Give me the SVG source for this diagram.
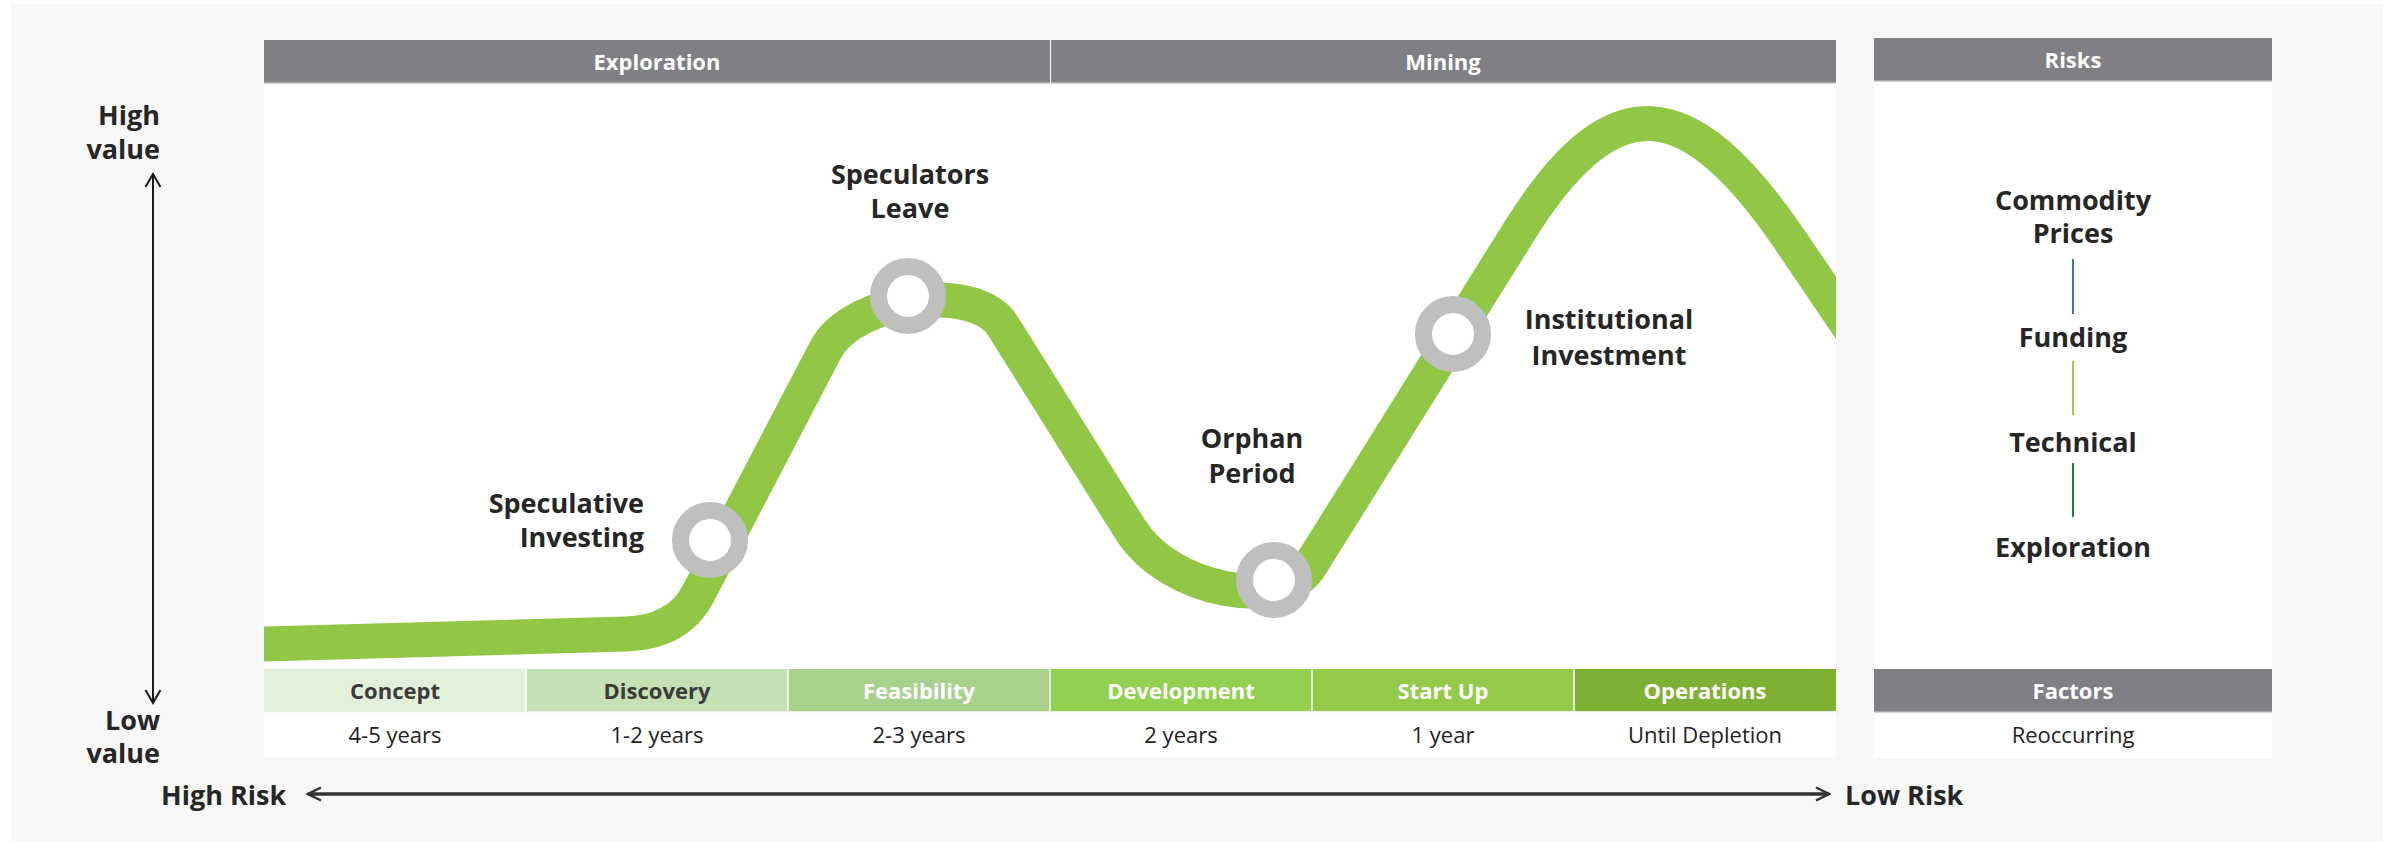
<svg xmlns="http://www.w3.org/2000/svg" width="2397" height="845" viewBox="0 0 2397 845">
  <defs>
    <style>
      .lbl { font-family: "Open Sans", "Liberation Sans", sans-serif; font-weight: 700; font-size: 27px; fill: #262626; }
      .hdr { font-family: "Open Sans", "Liberation Sans", sans-serif; font-weight: 700; font-size: 22px; fill: #ffffff; text-anchor: middle; }
      .phase-dark { font-family: "Open Sans", "Liberation Sans", sans-serif; font-weight: 700; font-size: 22px; fill: #3a3a3a; text-anchor: middle; }
      .phase-light { font-family: "Open Sans", "Liberation Sans", sans-serif; font-weight: 700; font-size: 22px; fill: #ffffff; text-anchor: middle; }
      .dur { font-family: "Open Sans", "Liberation Sans", sans-serif; font-weight: 400; font-size: 22px; fill: #222222; text-anchor: middle; }
      .mid { text-anchor: middle; }
      .end { text-anchor: end; }
      .ring { fill: #ffffff; stroke: #bfbfbf; stroke-width: 17; }
      .cell-sep { stroke: #ffffff; stroke-width: 1.5; }
    </style>
    <clipPath id="plotClip">
      <rect x="264" y="83" width="1572" height="586"/>
    </clipPath>
    <!-- open chevron heads; both point along the line direction -->
    <marker id="headV" viewBox="0 0 20 20" refX="18" refY="10" markerWidth="20" markerHeight="20" markerUnits="userSpaceOnUse" orient="auto-start-reverse">
      <path d="M5 2.5 L18 10 L5 17.5" fill="none" stroke="#1a1a1a" stroke-width="2"/>
    </marker>
    <marker id="headH" viewBox="0 0 20 20" refX="18" refY="10" markerWidth="20" markerHeight="20" markerUnits="userSpaceOnUse" orient="auto-start-reverse">
      <path d="M5 3.5 L18 10 L5 16.5" fill="none" stroke="#333333" stroke-width="2.5"/>
    </marker>
  </defs>

  <!-- page background -->
  <rect x="0" y="0" width="2397" height="845" fill="#ffffff"/>
  <rect x="10" y="4" width="2373" height="838" fill="#f7f7f7"/>

  <!-- main chart panel -->
  <g id="chart-panel">
    <rect x="264" y="40" width="1572" height="717" fill="#ffffff"/>
  </g>

  <!-- stage headers -->
  <g id="header-exploration">
    <rect x="264" y="40" width="786" height="43" fill="#807f83"/>
    <rect x="264" y="82" width="786" height="1.5" fill="#a9a8ab"/>
    <text class="hdr" x="657" y="70">Exploration</text>
  </g>
  <g id="header-mining">
    <rect x="1051" y="40" width="785" height="43" fill="#807f83"/>
    <rect x="1051" y="82" width="785" height="1.5" fill="#a9a8ab"/>
    <text class="hdr" x="1443" y="70">Mining</text>
  </g>

  <!-- value curve -->
  <g id="value-curve" clip-path="url(#plotClip)">
    <path d="M 250 644.4 L 625 634 Q 678 632.5 698 594 L 826 349 C 853 298.4 975 281.2 1003 326 L 1130 529 C 1170 593 1282 611 1310 566 L 1520 230 C 1612 83 1688 90 1790 240 L 1900 402" fill="none" stroke="#92c746" stroke-width="35" stroke-linejoin="round"/>
  </g>

  <!-- milestones -->
  <g id="milestone-speculative-investing">
    <circle class="ring" cx="710" cy="540" r="29.5"/>
    <text class="lbl end" x="644" y="513">Speculative</text>
    <text class="lbl end" x="644" y="547">Investing</text>
  </g>
  <g id="milestone-speculators-leave">
    <circle class="ring" cx="908" cy="296" r="29.5"/>
    <text class="lbl mid" x="910" y="184">Speculators</text>
    <text class="lbl mid" x="910" y="218">Leave</text>
  </g>
  <g id="milestone-orphan-period">
    <circle class="ring" cx="1274" cy="580" r="29.5"/>
    <text class="lbl mid" x="1252" y="448">Orphan</text>
    <text class="lbl mid" x="1252" y="483">Period</text>
  </g>
  <g id="milestone-institutional-investment">
    <circle class="ring" cx="1453" cy="334" r="29.5"/>
    <text class="lbl mid" x="1609" y="329">Institutional</text>
    <text class="lbl mid" x="1609" y="365">Investment</text>
  </g>

  <!-- phase table -->
  <g id="phase-concept">
    <rect x="264" y="669" width="262" height="43" fill="#e2efda"/>
    <text class="phase-dark" x="395" y="699">Concept</text>
    <text class="dur" x="395" y="743">4-5 years</text>
  </g>
  <g id="phase-discovery">
    <rect x="526" y="669" width="262" height="43" fill="#c5e0b4"/>
    <text class="phase-dark" x="657" y="699">Discovery</text>
    <text class="dur" x="657" y="743">1-2 years</text>
  </g>
  <g id="phase-feasibility">
    <rect x="788" y="669" width="262" height="43" fill="#a9d18e"/>
    <text class="phase-light" x="919" y="699">Feasibility</text>
    <text class="dur" x="919" y="743">2-3 years</text>
  </g>
  <g id="phase-development">
    <rect x="1050" y="669" width="262" height="43" fill="#92d050"/>
    <text class="phase-light" x="1181" y="699">Development</text>
    <text class="dur" x="1181" y="743">2 years</text>
  </g>
  <g id="phase-startup">
    <rect x="1312" y="669" width="262" height="43" fill="#95c94a"/>
    <text class="phase-light" x="1443" y="699">Start Up</text>
    <text class="dur" x="1443" y="743">1 year</text>
  </g>
  <g id="phase-operations">
    <rect x="1574" y="669" width="262" height="43" fill="#7eb033"/>
    <text class="phase-light" x="1705" y="699">Operations</text>
    <text class="dur" x="1705" y="743">Until Depletion</text>
  </g>
  <g id="phase-separators">
    <line class="cell-sep" x1="526" y1="669" x2="526" y2="712"/>
    <line class="cell-sep" x1="788" y1="669" x2="788" y2="712"/>
    <line class="cell-sep" x1="1050" y1="669" x2="1050" y2="712"/>
    <line class="cell-sep" x1="1312" y1="669" x2="1312" y2="712"/>
    <line class="cell-sep" x1="1574" y1="669" x2="1574" y2="712"/>
    <rect x="264" y="711" width="1572" height="1.5" fill="#e8f1e0"/>
  </g>

  <!-- risks panel -->
  <g id="risks-panel">
    <rect x="1874" y="38" width="398" height="720" fill="#ffffff"/>
    <rect x="1874" y="38" width="398" height="43" fill="#807f83"/>
    <rect x="1874" y="80" width="398" height="1.5" fill="#a9a8ab"/>
    <text class="hdr" x="2073" y="68">Risks</text>
  </g>
  <g id="risk-commodity-prices">
    <text class="lbl mid" x="2073" y="210">Commodity</text>
    <text class="lbl mid" x="2073" y="243">Prices</text>
  </g>
  <g id="risk-funding">
    <text class="lbl mid" x="2073" y="347">Funding</text>
  </g>
  <g id="risk-technical">
    <text class="lbl mid" x="2073" y="452">Technical</text>
  </g>
  <g id="risk-exploration">
    <text class="lbl mid" x="2073" y="557">Exploration</text>
  </g>
  <g id="factors">
    <rect x="1874" y="669" width="398" height="43" fill="#807f83"/>
    <rect x="1874" y="711" width="398" height="1.5" fill="#a9a8ab"/>
    <text class="hdr" x="2073" y="699">Factors</text>
    <text class="dur" x="2073" y="743">Reoccurring</text>
  </g>

  <!-- connectors -->
  <g id="connectors">
    <line x1="2073" y1="259" x2="2073" y2="314" stroke="#4472c4" stroke-width="2"/>
    <line x1="2073" y1="361" x2="2073" y2="415" stroke="#92d050" stroke-width="2"/>
    <line x1="2073" y1="463" x2="2073" y2="517" stroke="#1e7b45" stroke-width="2"/>
    <line x1="153" y1="174" x2="153" y2="703" stroke="#1a1a1a" stroke-width="2" marker-start="url(#headV)" marker-end="url(#headV)"/>
    <line x1="308" y1="794" x2="1829" y2="794" stroke="#333333" stroke-width="3.5" marker-start="url(#headH)" marker-end="url(#headH)"/>
  </g>

  <!-- axis labels -->
  <g id="axis-value">
    <text class="lbl end" x="160" y="125">High</text>
    <text class="lbl end" x="160" y="159">value</text>
    <text class="lbl end" x="160" y="730">Low</text>
    <text class="lbl end" x="160" y="763">value</text>
  </g>
  <g id="axis-risk">
    <text class="lbl" x="161" y="805">High Risk</text>
    <text class="lbl" x="1845" y="805">Low Risk</text>
  </g>
</svg>
